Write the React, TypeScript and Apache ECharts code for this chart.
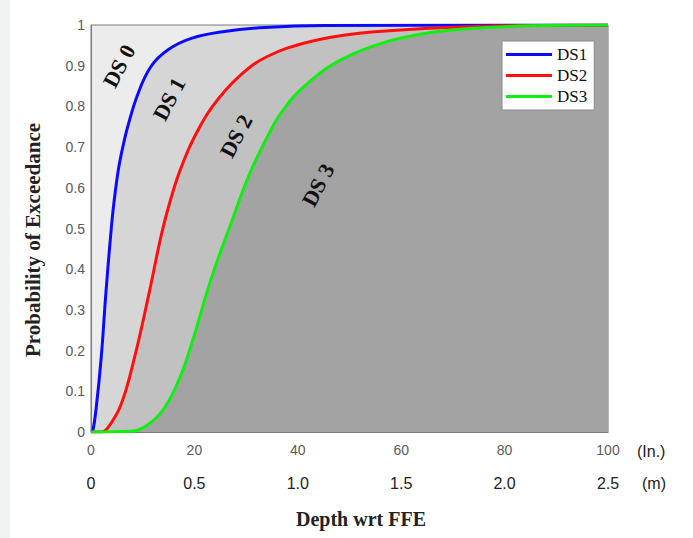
import React, { useEffect, useRef } from "react";
import * as echarts from "echarts";

// Depth in inches vs probability of exceedance
const DS1_POINTS: [number, number][] = [
  [0, 0], [0.35, 0.003], [1.0, 0.059], [1.97, 0.182], [2.9, 0.345], [3.9, 0.497],
  [4.45, 0.565], [5.3, 0.645], [6.15, 0.7], [7.1, 0.75], [9.05, 0.83], [11.6, 0.898],
  [14.9, 0.939], [19.4, 0.967], [25.8, 0.984], [33.6, 0.994], [45, 0.999], [100, 1],
];
const DS2_POINTS: [number, number][] = [
  [0, 0], [2.0, 0.0], [3.25, 0.01], [5.8, 0.067], [8.4, 0.182], [11.3, 0.345],
  [13.8, 0.495], [16.2, 0.605], [18.0, 0.668], [20.0, 0.725], [23.5, 0.8], [28.5, 0.872],
  [34.0, 0.922], [42.3, 0.959], [51.9, 0.98], [65.5, 0.992], [80, 0.998], [100, 1],
];
const DS3_POINTS: [number, number][] = [
  [0, 0], [7.8, 0.002], [11.0, 0.018], [14.2, 0.059], [17.3, 0.137], [20.0, 0.239],
  [23.2, 0.375], [27.0, 0.51], [30.7, 0.635], [35.2, 0.752], [37.7, 0.8], [40.3, 0.838],
  [45.5, 0.893], [50.0, 0.925], [55.0, 0.95], [60.0, 0.968], [66.0, 0.982],
  [72.6, 0.991], [85, 0.998], [100, 1],
];

const SERIES_NAMES = ["DS1", "DS2", "DS3"];
const SERIES_COLORS = ["#0a0aff", "#ff1010", "#10f010"];
const REGION_COLORS = ["#ececec", "#d6d6d6", "#c1c1c1", "#a3a3a3"];
const REGION_LABELS = ["DS 0", "DS 1", "DS 2", "DS 3"];

const X_IN_LABELS = ["0", "20", "40", "60", "80", "100"];
const X_M_LABELS = ["0", "0.5", "1.0", "1.5", "2.0", "2.5"];
const Y_LABELS = ["0", "0.1", "0.2", "0.3", "0.4", "0.5", "0.6", "0.7", "0.8", "0.9", "1"];

const SERIF = "Liberation Serif";
const SANS = "Liberation Sans";

export default function App() {
  const ref = useRef<HTMLDivElement>(null);

  useEffect(() => {
    if (!ref.current) return;
    const chart = echarts.init(ref.current, undefined, { renderer: "svg" });
    const data = [DS1_POINTS, DS2_POINTS, DS3_POINTS];

    const areaSeries = data.map((pts, i) => ({
      type: "line",
      name: "area" + i,
      data: pts,
      smooth: 0.4,
      symbol: "none",
      silent: true,
      z: 1,
      lineStyle: { width: 0, opacity: 0 },
      areaStyle: { color: REGION_COLORS[i + 1], opacity: 1 },
    }));
    const lineSeries = data.map((pts, i) => ({
      type: "line",
      name: SERIES_NAMES[i],
      data: pts,
      smooth: 0.4,
      symbol: "none",
      z: 3,
      color: SERIES_COLORS[i],
      lineStyle: { width: 3, color: SERIES_COLORS[i] },
    }));

    const dsLabelPos: [number, number][] = [[119, 66], [169, 99], [236, 136], [318, 185]];

    chart.setOption({
      animation: false,
      backgroundColor: "#ffffff",
      grid: {
        left: 91,
        right: 85,
        top: 25,
        bottom: 106,
        show: true,
        backgroundColor: REGION_COLORS[0],
        borderColor: "#7a7a7a",
        borderWidth: 1,
      },
      legend: {
        data: SERIES_NAMES.map((n) => ({ name: n, icon: "rect" })),
        orient: "vertical",
        left: 502,
        top: 41,
        backgroundColor: "#ffffff",
        borderColor: "#8a8a8a",
        borderWidth: 1,
        borderRadius: 0,
        padding: [5, 7, 5, 4],
        itemGap: 4,
        itemWidth: 46,
        itemHeight: 3,
        textStyle: { fontFamily: SERIF, fontSize: 17, color: "#111", lineHeight: 17 },
      },
      xAxis: [
        {
          type: "value",
          min: 0,
          max: 100,
          interval: 20,
          axisLine: { show: true, lineStyle: { color: "#7a7a7a" } },
          axisTick: { show: false },
          splitLine: { show: false },
          axisLabel: {
            margin: 11,
            fontFamily: SANS,
            fontSize: 14,
            color: "#5a5a5a",
            formatter: (v: number) => X_IN_LABELS[Math.round(v / 20)] ?? "",
          },
        },
        {
          type: "value",
          position: "bottom",
          offset: 32,
          min: 0,
          max: 100,
          interval: 20,
          axisLine: { show: false },
          axisTick: { show: false },
          splitLine: { show: false },
          axisLabel: {
            margin: 11,
            fontFamily: SANS,
            fontSize: 16,
            color: "#222",
            formatter: (v: number) => X_M_LABELS[Math.round(v / 20)] ?? "",
          },
        },
      ],
      yAxis: {
        type: "value",
        min: 0,
        max: 1,
        interval: 0.1,
        axisLine: { show: true, lineStyle: { color: "#7a7a7a" } },
        axisTick: { show: false },
        splitLine: { show: false },
        axisLabel: {
          margin: 6,
          fontFamily: SANS,
          fontSize: 14,
          color: "#5a5a5a",
          formatter: (v: number) => Y_LABELS[Math.round(v * 10)] ?? "",
        },
      },
      graphic: [
        {
          type: "rect",
          left: 0,
          top: 0,
          z: -10,
          shape: { width: 10, height: 538 },
          style: { fill: "#f1f2f4" },
        },
        {
          type: "text",
          x: 33,
          y: 240,
          rotation: Math.PI / 2,
          style: {
            text: "Probability of Exceedance",
            font: `bold 21px ${SERIF}`,
            fill: "#222",
            align: "center",
            verticalAlign: "middle",
          },
        },
        {
          type: "text",
          x: 361,
          y: 519,
          style: {
            text: "Depth wrt FFE",
            font: `bold 20px ${SERIF}`,
            fill: "#222",
            align: "center",
            verticalAlign: "middle",
          },
        },
        {
          type: "text",
          x: 637,
          y: 451,
          style: { text: "(In.)", font: `16px ${SANS}`, fill: "#222", align: "left", verticalAlign: "middle" },
        },
        {
          type: "text",
          x: 642,
          y: 483,
          style: { text: "(m)", font: `16px ${SANS}`, fill: "#222", align: "left", verticalAlign: "middle" },
        },
        ...REGION_LABELS.map((t, i) => ({
          type: "text",
          x: dsLabelPos[i][0],
          y: dsLabelPos[i][1],
          rotation: (62 * Math.PI) / 180,
          z: 10,
          style: {
            text: t,
            font: `bold 22px ${SERIF}`,
            fill: "#111",
            align: "center",
            verticalAlign: "middle",
          },
        })),
      ],
      series: [...areaSeries, ...lineSeries],
    });

    return () => chart.dispose();
  }, []);

  return (
    <div
      ref={ref}
      style={{ position: "absolute", left: 0, top: 0, width: 693, height: 538, background: "#fff" }}
    />
  );
}
